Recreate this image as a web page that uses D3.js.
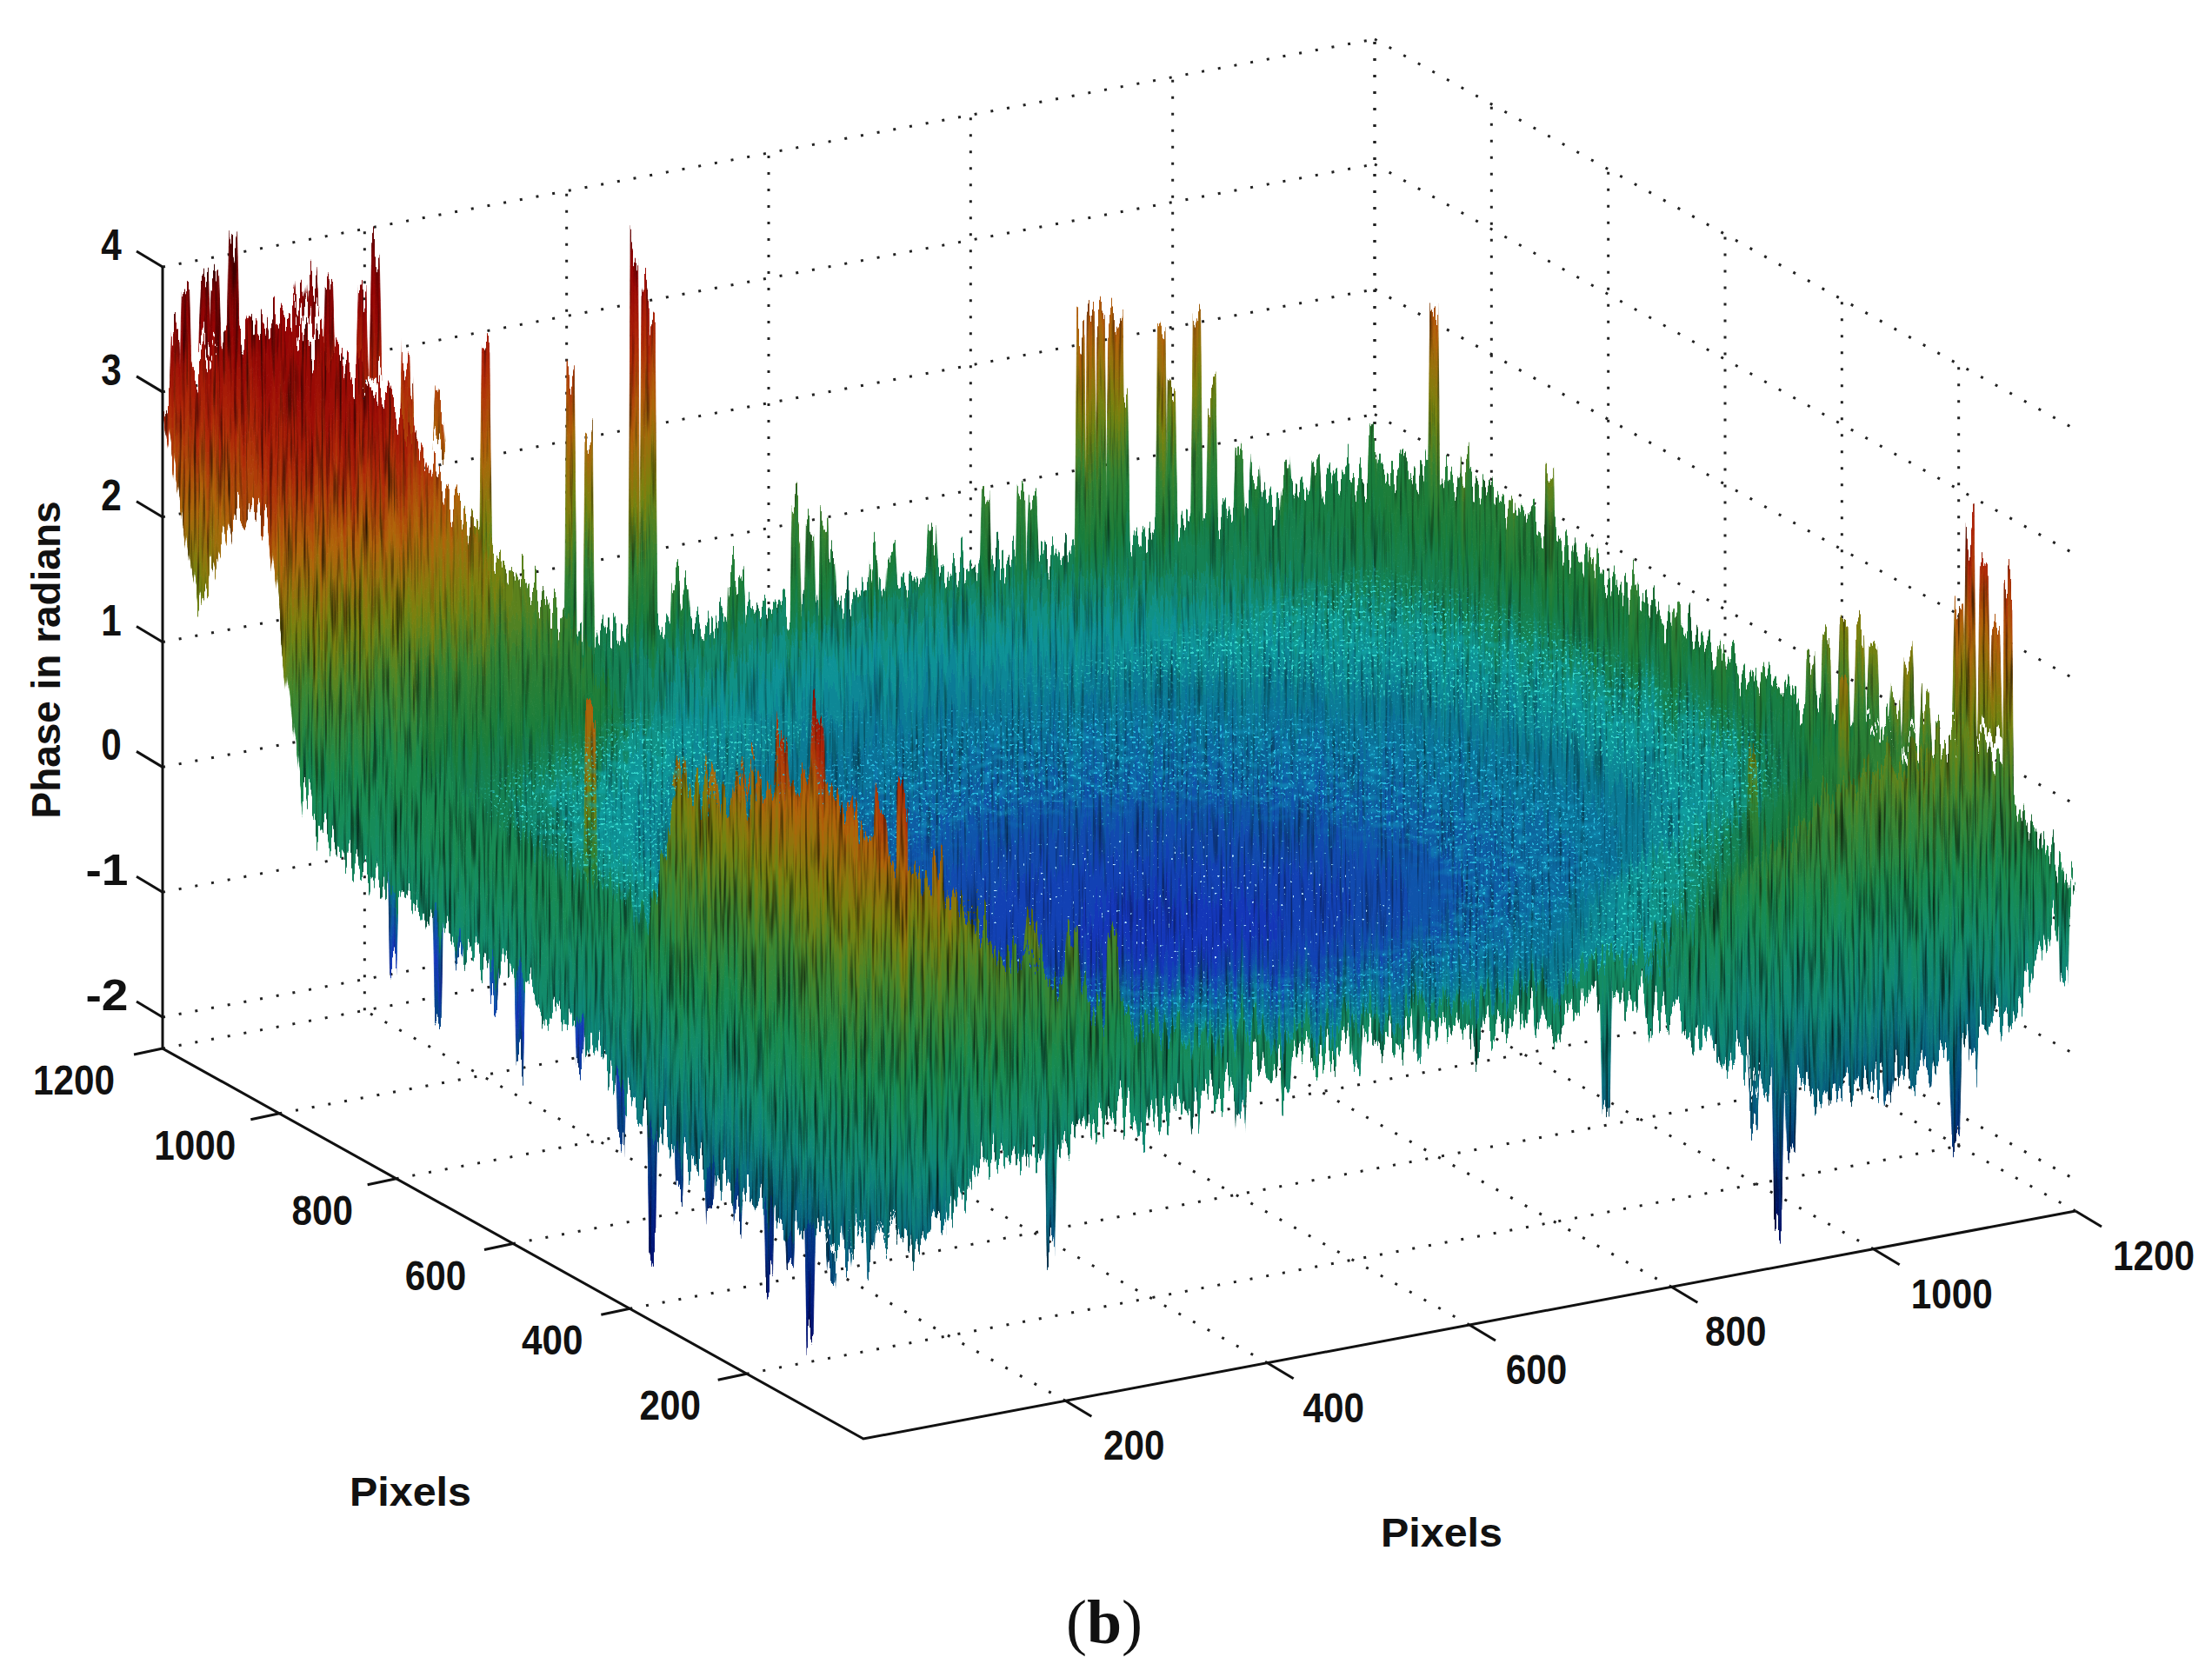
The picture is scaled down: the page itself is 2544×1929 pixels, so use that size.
<!DOCTYPE html>
<html>
<head>
<meta charset="utf-8">
<title>Phase surface</title>
<script src="https://cdn.jsdelivr.net/npm/d3@7/dist/d3.min.js"></script>
<style>
  html, body { margin: 0; padding: 0; background: #fff; }
  svg { display: block; }
  text { font-family: "Liberation Sans", Arial, sans-serif; fill: #111; }
</style>
</head>
<body>
<div id="chart"></div>
<script>
// axis ticks
const xTicks = [200, 400, 600, 800, 1000, 1200];
const yTicks = [200, 400, 600, 800, 1000, 1200];
const zTicks = [-2, -1, 0, 1, 2, 3, 4];

// surface heights, one row per y, columns x = 0, 60 ... 1200
const gridStep = [0, 60, 120, 180, 240, 300, 360, 420, 480, 540, 600, 660, 720, 780, 840, 900, 960, 1020, 1080, 1140, 1200];
const surfaceZ = [
  [-0.5, -0.75, -0.2, -0.25, 0, -0.1, 0.02, 0.2, 0.15, 0.15, 0.1, 0.1, 0.1, 0.05, -0.35, -0.8, -0.9, -0.9, -0.8, -0.5, 0.35],
  [-0.8, 2.15, 1.7, 1.2, 0.9, 0.5, 0.25, 0.2, 0.15, 0.12, 0.1, 0.12, 0.15, 0.17, 0.2, 0.7, 1.05, 1.3, 1.45, 1.45, 0.55],
  [-0.95, 2.3, 1.0, 0.6, 0.35, 0.2, 0.12, 0.07, 0.02, 0, -0.02, -0.02, 0, 0.02, 0.12, 0.35, 0.65, 0.8, 1.1, 1.3, 0.65],
  [-0.85, 2.4, 0.9, 0.4, 0.2, 0.1, 0.02, -0.03, -0.07, -0.1, -0.11, -0.11, -0.1, -0.07, 0.05, 0.2, 0.4, 0.6, 0.85, 1.1, 0.7],
  [-0.8, 2.3, 0.75, 0.35, 0.1, 0.01, -0.05, -0.11, -0.15, -0.18, -0.2, -0.2, -0.18, -0.15, -0.05, 0.12, 0.25, 0.4, 0.65, 1.0, 0.7],
  [-0.8, 2.0, 0.65, 0.3, 0.02, -0.05, -0.12, -0.18, -0.23, -0.27, -0.3, -0.3, -0.27, -0.23, -0.15, -0.03, 0.18, 0.3, 0.5, 0.8, 0.7],
  [-0.7, 1.85, 0.5, 0.1, -0.03, -0.11, -0.18, -0.25, -0.32, -0.37, -0.4, -0.4, -0.37, -0.32, -0.25, -0.18, -0.08, 0.1, 0.25, 0.45, 0.65],
  [-0.52, 1.75, 0.35, 0.02, -0.07, -0.15, -0.23, -0.32, -0.4, -0.46, -0.5, -0.5, -0.46, -0.4, -0.32, -0.23, -0.15, 0, 0.15, 0.35, 0.65],
  [-0.35, 0.4, 0.22, 0.02, -0.1, -0.18, -0.27, -0.37, -0.46, -0.53, -0.57, -0.57, -0.53, -0.46, -0.37, -0.27, -0.18, -0.1, 0.05, 0.2, 0.6],
  [-0.15, 0.35, 0.21, 0.05, -0.11, -0.2, -0.3, -0.4, -0.5, -0.57, -0.6, -0.6, -0.57, -0.5, -0.4, -0.3, -0.2, -0.11, 0.02, 0.2, 0.6],
  [-0.1, 0.35, 0.25, 0.1, -0.1, -0.2, -0.3, -0.4, -0.5, -0.55, -0.58, -0.58, -0.55, -0.5, -0.4, -0.3, -0.2, -0.1, 0.02, 0.2, 0.65],
  [-0.14, 0.35, 0.28, 0.15, -0.05, -0.16, -0.27, -0.37, -0.46, -0.53, -0.55, -0.55, -0.5, -0.45, -0.35, -0.27, -0.18, -0.1, 0.02, 0.2, 0.65],
  [-0.07, 0.38, 0.3, 0.18, 0.02, -0.1, -0.23, -0.32, -0.4, -0.46, -0.48, -0.48, -0.46, -0.4, -0.32, -0.23, -0.15, -0.07, 0.04, 0.25, 0.7],
  [0, 0.4, 0.32, 0.2, 0.05, -0.08, -0.18, -0.25, -0.32, -0.37, -0.4, -0.4, -0.37, -0.32, -0.25, -0.18, -0.11, -0.03, 0.07, 0.3, 0.7],
  [0.05, 0.45, 0.36, 0.25, 0.12, -0.02, -0.12, -0.18, -0.23, -0.27, -0.3, -0.3, -0.27, -0.23, -0.18, -0.12, -0.05, 0.02, 0.12, 0.35, 0.75],
  [0.13, 0.5, 0.4, 0.3, 0.18, 0.08, 0.01, -0.05, -0.11, -0.15, -0.18, -0.2, -0.18, -0.15, -0.11, -0.05, 0.01, 0.1, 0.18, 0.4, 0.85],
  [0.3, 0.5, 0.5, 0.5, 0.4, 0.22, 0.1, 0.02, -0.03, -0.07, -0.1, -0.11, -0.1, -0.07, -0.03, 0.02, 0.1, 0.17, 0.26, 0.45, 0.9],
  [2.5, 3.25, 3.25, 2.35, 1.45, 1.15, 0.3, 0.12, 0.07, 0.02, 0, -0.02, 0, 0.02, 0.07, 0.12, 0.18, 0.26, 0.34, 0.5, 0.85],
  [2.3, 3.25, 3.35, 2.6, 1.75, 1.25, 0.4, 0.22, 0.17, 0.13, 0.11, 0.1, 0.11, 0.13, 0.17, 0.22, 0.28, 0.35, 0.4, 0.55, 0.8],
  [1.45, 3.35, 3.35, 2.7, 2.0, 1.35, 0.6, 0.33, 0.28, 0.25, 0.22, 0.21, 0.22, 0.25, 0.28, 0.33, 0.37, 0.42, 0.47, 0.55, 0.75],
  [2.9, 3.35, 3.45, 2.9, 2.2, 1.45, 0.75, 0.45, 0.4, 0.35, 0.35, 0.33, 0.35, 0.38, 0.38, 0.38, 0.4, 0.42, 0.45, 0.5, 0.6]
];

// [x, y, z] of the tall spikes along each side of the surface
const backLeftSpikes = [
  [7, 1190, 3.45], [17, 1190, 3.8], [36, 1190, 3.86], [46, 1190, 3.92], [64, 1190, 4.1], [73, 1190, 3.35],
  [83, 1190, 3.17], [100, 1190, 3.37], [110, 1190, 3.39], [130, 1190, 3.63], [143, 1190, 3.72], [159, 1190, 3.68],
  [192, 1190, 3.52], [205, 1190, 3.87], [235, 1190, 2.88], [268, 1190, 2.55], [215, 1150, 2.78], [291, 1150, 3.0],
  [375, 1150, 2.62], [393, 1150, 2.16], [438, 1150, 3.56], [449, 1150, 3.25], [455, 1150, 2.9], [479, 1150, 0.9],
  [535, 1150, 0.87], [598, 1150, 1.23], [612, 1150, 1.1], [626, 1150, 1.2], [675, 1150, 0.78], [786, 1150, 1.15],
  [821, 1150, 1.1], [880, 1150, 2.3], [890, 1150, 2.4], [900, 1150, 2.36], [911, 1150, 2.33], [918, 1150, 2.3], [960, 1150, 2.2],
  [970, 1150, 1.7], [995, 1150, 2.17], [1010, 1150, 1.6], [1037, 1150, 1.07], [1169, 1150, 0.95], [505, 1180, 0.7],
  [560, 1180, 0.72], [650, 1180, 0.75], [710, 1180, 0.72], [750, 1180, 0.85], [850, 1180, 0.95], [930, 1180, 1.4],
  [940, 1180, 1.55], [1070, 1180, 0.8], [1100, 1180, 0.85], [1130, 1180, 0.8]
];
const backRightSpikes = [
  [1150, 1012, 2.4], [1150, 959, 1.28], [1150, 880, 1.25], [1150, 814, 1.49], [1150, 740, 1.15], [1150, 670, 1.1],
  [1150, 597, 1.1], [1150, 520, 1.0], [1150, 452, 0.91], [1150, 367, 1.31], [1150, 340, 1.5], [1150, 283, 1.73],
  [1150, 222, 1.42], [1150, 170, 1.5], [1150, 113, 2.37], [1150, 94, 2.97], [1150, 70, 2.83], [1150, 50, 2.4],
  [1150, 29, 2.72], [1150, 310, 1.7], [1150, 260, 1.6], [1150, 200, 1.75], [1040, 120, 1.9], [950, 120, 1.5]
];
const frontRightDrops = [
  [197, 20, -1.09], [287, 20, -0.26], [340, 20, -0.2], [385, 20, -0.35], [430, 20, -0.1],
  [500, 20, -0.1], [560, 20, -0.15], [620, 20, -0.1], [680, 20, -0.05], [747, 20, -0.84], [790, 20, -0.1],
  [856, 20, -0.52], [893, 20, -1.08], [917, 20, -2.0], [930, 20, -1.4], [977, 20, -0.97], [1000, 20, -0.9],
  [1026, 20, -1.11], [1065, 20, -1.0], [1093, 20, -1.55], [1110, 20, -1.0], [1200, 20, -0.35]
];
const frontLeftDrops = [
  [20, 840, -0.65], [20, 763, -0.94], [20, 727, -0.34], [20, 667, -0.48], [20, 623, -0.97], [20, 520, -0.8],
  [20, 450, -1.1], [20, 396, -1.8], [20, 350, -1.2], [20, 297, -1.31], [20, 250, -1.15], [20, 196, -1.61],
  [20, 160, -1.3], [20, 126, -1.87], [20, 90, -1.2], [20, 63, -1.0], [20, 22, -0.94]
];
const frontRidgeSpikes = [
  [20, 502, 2.27], [30, 365, 2.06], [40, 328, 2.16], [45, 290, 2.2], [40, 268, 2.38], [40, 240, 2.1], [40, 208, 2.75],
  [40, 147, 3.09], [40, 87, 2.45], [40, 39, 2.64], [50, 20, 2.75], [85, 20, 2.18], [100, 20, 1.9], [130, 40, 1.7],
  [190, 40, 1.5], [230, 40, 1.3], [270, 40, 1.2]
];

// colours read along the height of the surface, the bowl first and then the hanging edges
const colourHeights = [-2.25, -1.5, -0.9, -0.6, -0.35, -0.1, 0.15, 0.35, 0.6, 1.1, 1.6, 2.2, 2.8, 3.4, 4.1];
const colourValues = ['#00005a', '#001e82', '#054687', '#1437b9', '#0f55aa', '#0a7396', '#0f9696', '#148255', '#197d3c', '#328232', '#78820f', '#af640a', '#af2808', '#960505', '#5a0000'];
const edgeHeights = [-2.25, -1.6, -1.1, -0.7, -0.3, 0.1, 0.5, 1.1, 1.6, 2.2, 2.8, 3.4, 4.1];
const edgeValues = ['#00005a', '#002878', '#04507f', '#0a6f80', '#0f8878', '#148c64', '#198a4c', '#40862e', '#78820f', '#af640a', '#af2808', '#960505', '#5a0000'];

// label nudges, the printed ticks do not sit quite evenly
const xLabelNudge = [-11, -14, -13, -16, 0, 0];
const yLabelNudge = [11, 10, 10, 14, 2, -3];

const width = 2544;
const height = 1929;

// projection of the box, built from one scale per screen direction
const xToScreenX = d3.scaleLinear().domain([0, 1200]).range([0, 1394]);
const xToScreenY = d3.scaleLinear().domain([0, 1200]).range([0, -262]);
const yToScreenX = d3.scaleLinear().domain([0, 1200]).range([0, -806]);
const yToScreenY = d3.scaleLinear().domain([0, 1200]).range([0, -449]);
const zToScreenY = d3.scaleLinear().domain([-2.25, 4]).range([0, -899]);
const colour = d3.scaleLinear().domain(colourHeights).range(colourValues).clamp(true);
const edgeColour = d3.scaleLinear().domain(edgeHeights).range(edgeValues).clamp(true);

function project(x, y, z) {
  return [993 + xToScreenX(x) + yToScreenX(y), 1655 + xToScreenY(x) + yToScreenY(y) + zToScreenY(z)];
}

const svg = d3.select('#chart').append('svg').attr('width', width).attr('height', height);
const defs = svg.append('defs');

function fullFilter(id) {
  return defs.append('filter').attr('id', id).attr('filterUnits', 'userSpaceOnUse')
    .attr('x', 0).attr('y', 0).attr('width', width).attr('height', height)
    .attr('color-interpolation-filters', 'sRGB');
}

// vertical streak roughness, the surface is much noisier than anything readable
function addRough(id, gain, offset) {
  const f = fullFilter(id);
  f.append('feTurbulence').attr('type', 'fractalNoise').attr('baseFrequency', '0.22 0.003').attr('numOctaves', 2).attr('seed', 7).attr('result', 'n');
  f.append('feColorMatrix').attr('in', 'n').attr('values', '1 0 0 0 0  0 1 0 0 0  0 0 1 0 0  0 0 0 0 0.5').attr('result', 'disp');
  f.append('feDisplacementMap').attr('in', 'SourceGraphic').attr('in2', 'disp').attr('scale', 120)
    .attr('xChannelSelector', 'A').attr('yChannelSelector', 'R').attr('result', 'moved');
  f.append('feTurbulence').attr('type', 'fractalNoise').attr('baseFrequency', '0.3 0.012').attr('numOctaves', 2).attr('seed', 3).attr('result', 'n2');
  f.append('feColorMatrix').attr('in', 'n2').attr('values', `0 0 0 0 0  0 0 0 0 0  0 0 0 0 0  ${gain} 0 0 0 ${offset}`).attr('result', 'streak');
  f.append('feComposite').attr('in', 'streak').attr('in2', 'moved').attr('operator', 'in').attr('result', 'shade');
  const m = f.append('feMerge');
  m.append('feMergeNode').attr('in', 'moved');
  m.append('feMergeNode').attr('in', 'shade');
}
addRough('roughBack', 1.3, -0.66);
addRough('roughFront', 1.8, -0.85);

// speckle masks, fine noise thresholded to dots, with a blurred edge
function addDots(id, seed, freq, gain, offset, blur) {
  const f = fullFilter(id);
  f.append('feGaussianBlur').attr('in', 'SourceGraphic').attr('stdDeviation', blur).attr('result', 'soft');
  f.append('feTurbulence').attr('type', 'fractalNoise').attr('baseFrequency', freq).attr('numOctaves', 1).attr('seed', seed).attr('result', 'n');
  f.append('feColorMatrix').attr('in', 'n').attr('values', `0 0 0 0 1  0 0 0 0 1  0 0 0 0 1  ${gain} 0 0 0 ${offset}`).attr('result', 'mask');
  f.append('feComposite').attr('in', 'soft').attr('in2', 'mask').attr('operator', 'in');
}
addDots('dotsDense', 11, '0.34', 14, -8.6, 10);
addDots('dotsSparse', 23, '0.3', 16, -11.4, 10);
addDots('clouds', 5, '0.07 0.13', 4, -1.9, 16);

// wall and floor grid
const grid = svg.append('g').attr('fill', 'none').attr('stroke', '#222').attr('stroke-width', 3)
  .attr('stroke-dasharray', '3 16').attr('stroke-linecap', 'butt');
const line = d3.line();
function gridLine(a, b) {
  grid.append('path').attr('d', line([project(...a), project(...b)]));
}
const zBottom = zToScreenY.domain()[0];
const zTop = zToScreenY.domain()[1];
zTicks.forEach(z => {
  gridLine([0, 1200, z], [1200, 1200, z]);
  gridLine([1200, 1200, z], [1200, 0, z]);
});
xTicks.forEach(x => {
  gridLine([x, 0, zBottom], [x, 1200, zBottom]);
  gridLine([x, 1200, zBottom], [x, 1200, zTop]);
});
yTicks.forEach(y => {
  gridLine([0, y, zBottom], [1200, y, zBottom]);
  gridLine([1200, y, zBottom], [1200, y, zTop]);
});

// clip a 3d polygon to one height band
function clipBand(poly, lo, hi) {
  function cut(pts, keep, level) {
    const out = [];
    pts.forEach((p, i) => {
      const q = pts[(i + 1) % pts.length];
      if (keep(p[2])) out.push(p);
      if (keep(p[2]) !== keep(q[2])) {
        const t = (level - p[2]) / (q[2] - p[2]);
        out.push([p[0] + t * (q[0] - p[0]), p[1] + t * (q[1] - p[1]), level]);
      }
    });
    return out;
  }
  const a = cut(poly, z => z >= lo, lo);
  return a.length ? cut(a, z => z <= hi, hi) : a;
}

const bandEdges = d3.range(-2.4, 4.4, 0.08);
const path = d3.line().curve(d3.curveLinearClosed);

function drawPoly(g, poly, scale) {
  const zs = poly.map(p => p[2]);
  const lo = d3.min(zs);
  const hi = d3.max(zs);
  bandEdges.forEach(edge => {
    if (edge + 0.08 < lo || edge > hi) return;
    const piece = clipBand(poly, edge, edge + 0.08);
    if (piece.length < 3) return;
    const c = scale(edge + 0.04);
    g.append('path').attr('d', path(piece.map(p => project(...p))))
      .attr('fill', c).attr('stroke', c).attr('stroke-width', 0.8);
  });
}

// cells and spikes go in together, farthest first
const cells = [];
d3.range(gridStep.length - 1).forEach(j => {
  d3.range(gridStep.length - 1).forEach(i => {
    const x0 = gridStep[i], x1 = gridStep[i + 1], y0 = gridStep[j], y1 = gridStep[j + 1];
    cells.push({
      depth: x0 + y0 + 60,
      front: i < 2 || j < 1 || (j < 2 && i >= 14),
      poly: [[x0, y0, surfaceZ[j][i]], [x1, y0, surfaceZ[j][i + 1]], [x1, y1, surfaceZ[j + 1][i + 1]], [x0, y1, surfaceZ[j + 1][i]]],
      i, j
    });
  });
});

function baseHeight(x, y) {
  return surfaceZ[Math.round(y / 60)][Math.round(x / 60)];
}
function spikeItem(s, halfWidth) {
  const [x, y, z] = s;
  const b = baseHeight(x, y);
  const w = halfWidth;
  return {
    depth: x + y - 1,
    front: x < 120 || y < 120,
    poly: [[x - w, y, b], [x + w, y, b], [x + w * 0.6, y, z], [x - w * 0.6, y, z]]
  };
}
function rightSpikeItem(s, halfWidth) {
  // back right side spikes widen along y, not along x
  const [x, y, z] = s;
  const b = baseHeight(x, y);
  const w = halfWidth;
  return {
    depth: x + y - 1,
    front: y < 120,
    poly: [[x, y - w, b], [x, y + w, b], [x, y + w * 0.6, z], [x, y - w * 0.6, z]]
  };
}
const spikes = [
  ...backLeftSpikes.map(s => spikeItem(s, 6)),
  ...backRightSpikes.map(s => rightSpikeItem(s, 11)),
  ...frontRightDrops.map(s => spikeItem(s, 6)),
  ...frontLeftDrops.map(s => rightSpikeItem(s, 9)),
  ...frontRidgeSpikes.map(s => rightSpikeItem(s, 14))
];
const items = [...cells, ...spikes].sort((a, b) => b.depth - a.depth);

const backLayer = svg.append('g').attr('filter', 'url(#roughBack)');
items.filter(d => !d.front).forEach(d => drawPoly(backLayer, d.poly, colour));

// speckles sit on the bowl only
const speckleSets = [
  { id: 'clouds', colour: '#149ec4', lo: -0.34, hi: -0.1, opacity: 0.5 },
  { id: 'clouds', colour: '#12aaa8', lo: 0.04, hi: 0.3, opacity: 0.55 },
  { id: 'dotsDense', colour: '#3ce0d4', lo: 0.0, hi: 0.36, opacity: 0.9 },
  { id: 'dotsDense', colour: '#2cc4e6', lo: -0.32, hi: -0.08, opacity: 0.9 },
  { id: 'dotsSparse', colour: '#28c0e0', lo: -0.6, hi: 0.4, opacity: 0.75 },
  { id: 'dotsSparse', colour: '#c8e6ff', lo: -0.62, hi: -0.42, opacity: 1 }
];
speckleSets.forEach(set => {
  const g = svg.append('g').attr('filter', `url(#${set.id})`).attr('opacity', set.opacity).attr('fill', set.colour);
  cells.filter(d => !d.front && d.i >= 2 && d.j < 17).forEach(d => {
    const piece = clipBand(d.poly, set.lo, set.hi);
    if (piece.length >= 3) g.append('path').attr('d', path(piece.map(p => project(...p))));
  });
});

const frontLayer = svg.append('g').attr('filter', 'url(#roughFront)');
items.filter(d => d.front).forEach(d => drawPoly(frontLayer, d.poly, edgeColour));

// solid axes and ticks
const axes = svg.append('g').attr('fill', 'none').attr('stroke', '#111').attr('stroke-width', 3);
axes.append('path').attr('d', line([project(0, 1200, zTop), project(0, 1200, zBottom), project(0, 0, zBottom), project(1200, 0, zBottom)]));
zTicks.forEach(z => {
  const p = project(0, 1200, z);
  axes.append('path').attr('d', line([p, [p[0] - 30, p[1] - 18]]));
});
xTicks.forEach(x => {
  const p = project(x, 0, zBottom);
  axes.append('path').attr('d', line([p, [p[0] + 30, p[1] + 18]]));
});
yTicks.forEach(y => {
  const p = project(0, y, zBottom);
  axes.append('path').attr('d', line([p, [p[0] - 33, p[1] + 7]]));
});

// labels, squeezed sideways like the original bitmap font
function label(x, y, s, size, length) {
  return svg.append('text').attr('x', x).attr('y', y).attr('text-anchor', 'middle')
    .attr('dominant-baseline', 'central').attr('font-size', size).attr('font-weight', 'bold')
    .attr('textLength', length).attr('lengthAdjust', 'spacingAndGlyphs').text(s);
}
const digitWidth = 23.5;
zTicks.forEach(z => {
  const p = project(0, 1200, z);
  label(p[0] - (z < 0 ? 64 : 59), p[1] - 25, z, 50, String(z).length * digitWidth + (z < 0 ? 2 : 0));
});
xTicks.forEach((x, i) => {
  const p = project(x, 0, zBottom);
  label(p[0] + 90 + xLabelNudge[i], p[1] + 51, x, 49, String(x).length * digitWidth);
});
yTicks.forEach((y, i) => {
  const p = project(0, y, zBottom);
  label(p[0] - 99 + yLabelNudge[i], p[1] + 36, y, 49, String(y).length * digitWidth);
});
label(472, 1715, 'Pixels', 47, 140);
label(1658, 1762, 'Pixels', 47, 140);
label(0, 0, 'Phase in radians', 46, 365).attr('transform', 'translate(53,759) rotate(-90)');

// panel caption
const caption = svg.append('text').attr('x', 1270).attr('y', 1866).attr('text-anchor', 'middle')
  .attr('dominant-baseline', 'central').attr('font-size', 72).style('font-family', '"Liberation Serif", serif');
caption.append('tspan').text('(');
caption.append('tspan').attr('font-weight', 'bold').text('b');
caption.append('tspan').text(')');
</script>
</body>
</html>
